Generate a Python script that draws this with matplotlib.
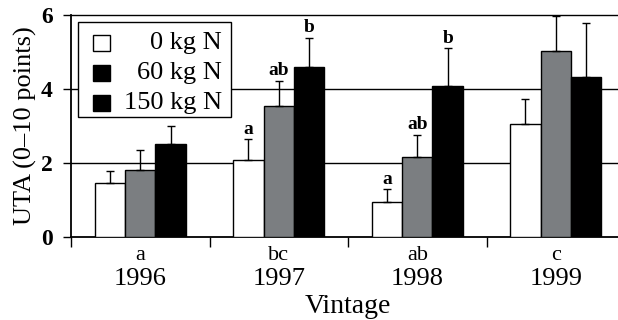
import matplotlib
matplotlib.use("Agg")
import matplotlib.pyplot as plt
from matplotlib.patches import Rectangle
import numpy as np

years = ["1996", "1997", "1998", "1999"]
year_letters = ["a", "bc", "ab", "c"]
series = ["0 kg N", "60 kg N", "150 kg N"]
vals_0 = [1.45, 2.08, 0.95, 3.05]
vals_60 = [1.80, 3.54, 2.17, 5.03]
vals_150 = [2.51, 4.59, 4.09, 4.32]
err_0 = [0.34, 0.56, 0.35, 0.68]
err_60 = [0.55, 0.68, 0.59, 0.94]
err_150 = [0.49, 0.80, 1.01, 1.47]
bar_letters_0 = ["", "a", "a", ""]
bar_letters_60 = ["", "ab", "ab", ""]
bar_letters_150 = ["", "b", "b", ""]

plt.rcParams['font.family'] = ['Liberation Serif', 'DejaVu Serif']

fig = plt.figure(figsize=(6.18, 3.2), dpi=100)
ax = fig.add_axes([71/618, 1-237/320, (625-71)/618, (237-15)/320])

x = np.arange(len(years))
w = 0.22
colors = ["white", "#7b7e81", "black"]
vals = [vals_0, vals_60, vals_150]
errs = [err_0, err_60, err_150]
letters = [bar_letters_0, bar_letters_60, bar_letters_150]

for i in range(3):
    xs = x + (i - 1) * w
    ax.bar(xs, vals[i], width=w, color=colors[i], edgecolor="black", linewidth=1.0, zorder=3)
    ax.errorbar(xs, vals[i], yerr=[np.zeros(len(years)), errs[i]], fmt="none",
                ecolor="black", elinewidth=1.0, capsize=3, capthick=1.0, zorder=4)
    for xx, v, e, lab in zip(xs, vals[i], errs[i], letters[i]):
        if lab:
            ax.annotate(lab, (xx, v + e), xytext=(0, 1), textcoords="offset points",
                        ha="center", va="bottom", fontsize=14, fontweight="bold")

ax.set_xlim(-0.5, 3.5)
ax.set_ylim(0, 6)
ax.set_yticks([0, 2, 4, 6])
ax.set_yticklabels(["0", "2", "4", "6"], fontsize=17, fontweight="bold")
for yv in [2, 4, 6]:
    ax.axhline(yv, color="black", linewidth=1.0, zorder=1, clip_on=False)
ax.tick_params(axis="y", direction="out", length=6, width=1.0, pad=7)

ax.set_xticks([-0.5, 0.5, 1.5, 2.5])
ax.set_xticklabels([])
ax.tick_params(axis="x", direction="out", length=7, width=1.0)
ax.set_xticks(x, minor=True)
ax.set_xticklabels(years, minor=True, fontsize=19)
ax.tick_params(axis="x", which="minor", length=0, pad=22)

for xx, lab in zip(x, year_letters):
    ax.annotate(lab, (xx, 0), xytext=(0, -13.5), textcoords="offset points",
                ha="center", va="center", fontsize=16)

ax.set_xlabel("Vintage", fontsize=20, labelpad=3)
ax.set_ylabel("UTA (0\u201310 points)", fontsize=19, labelpad=3)

for s in ["top", "right"]:
    ax.spines[s].set_visible(False)
ax.spines["left"].set_linewidth(1.3)
ax.spines["bottom"].set_linewidth(1.3)

# legend box
tr = ax.transAxes
def px(xp, yp):
    return ((xp - 71) / (625 - 71), (237 - yp) / (237 - 15))
x0, y0 = px(78, 117)
x1, y1 = px(231, 22)
ax.add_patch(Rectangle((x0, y0), x1 - x0, y1 - y0, transform=tr, facecolor="white",
                       edgecolor="black", linewidth=1.0, zorder=5))
leg_colors = ["white", "black", "black"]
for k, (lab, c) in enumerate(zip(series, leg_colors)):
    yc = 43 + 30 * k
    sx0, sy0 = px(93, yc + 8)
    sx1, sy1 = px(110, yc - 8)
    ax.add_patch(Rectangle((sx0, sy0), sx1 - sx0, sy1 - sy0, transform=tr, facecolor=c,
                           edgecolor="black", linewidth=1.0, zorder=6))
    tx, ty = px(222, yc)
    ax.text(tx, ty, lab, transform=tr, ha="right", va="center", fontsize=19, zorder=6)

fig.savefig("out.png", dpi=100)
